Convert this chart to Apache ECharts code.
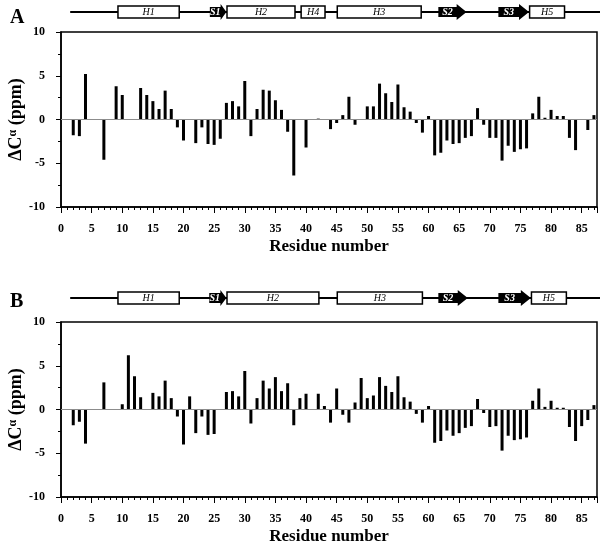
<!DOCTYPE html>
<html>
<head>
<meta charset="utf-8">
<script src="https://cdn.jsdelivr.net/npm/echarts@6/dist/echarts.min.js"></script>
<style>
  html, body { margin: 0; padding: 0; background: #fff; }
  #chart { width: 600px; height: 543px; }
</style>
</head>
<body>
<div id="chart"></div>
<script>
// residue numbers on the x axis
const residues = Array.from({ length: 87 }, (_, i) => i + 1)

// panel A, secondary chemical shift per residue (null = no value)
const shiftA = [
  null, -1.8, -1.9, 5.2, null, null, -4.6, null, 3.8, 2.8,
  null, null, 3.6, 2.8, 2.1, 1.2, 3.3, 1.2, -0.9, -2.4,
  null, -2.7, -0.9, -2.8, -2.9, -2.2, 1.9, 2.1, 1.5, 4.4,
  -1.9, 1.2, 3.4, 3.3, 2.2, 1.1, -1.4, -6.4, null, -3.2,
  null, 0.1, null, -1.1, -0.4, 0.5, 2.6, -0.6, null, 1.5,
  1.5, 4.1, 3.0, 2.0, 4.0, 1.4, 0.9, -0.4, -1.5, 0.4,
  -4.1, -3.8, -2.4, -2.8, -2.7, -2.1, -1.9, 1.3, -0.6, -2.1,
  -2.1, -4.7, -3.0, -3.7, -3.4, -3.3, 0.7, 2.6, 0.2, 1.1,
  0.4, 0.4, -2.1, -3.5, null, -1.2, 0.5
]

// panel B
const shiftB = [
  null, -1.8, -1.4, -3.9, null, null, 3.1, null, null, 0.6,
  6.2, 3.8, 1.4, null, 1.9, 1.5, 3.3, 1.3, -0.8, -4.0,
  1.5, -2.7, -0.8, -2.9, -2.8, null, 2.0, 2.1, 1.5, 4.4,
  -1.6, 1.3, 3.3, 2.4, 3.7, 2.1, 3.0, -1.8, 1.3, 1.8,
  null, 1.8, 0.4, -1.5, 2.4, -0.6, -1.5, 0.8, 3.6, 1.3,
  1.6, 3.7, 2.7, 2.0, 3.8, 1.4, 0.9, -0.5, -1.5, 0.4,
  -3.8, -3.6, -2.4, -3.0, -2.7, -2.1, -1.9, 1.2, -0.4, -2.0,
  -1.9, -4.7, -3.0, -3.5, -3.4, -3.2, 1.0, 2.4, 0.3, 1.0,
  0.2, 0.2, -2.0, -3.6, -1.9, -1.2, 0.5
]

// secondary structure elements (residue ranges)
const ssStartA = [1.5, 9.3, 24.3, 27.1, 39.2, 45.1, 61.6, 71.4, 76.5]
const ssEndA = [88, 19.3, 27.0, 38.2, 43.1, 58.8, 66.2, 76.4, 82.2]
const ssKindA = ['coil', 'helix', 'strand', 'helix', 'helix', 'helix', 'strand', 'strand', 'helix']
const ssLabelA = ['', 'H1', 'S1', 'H2', 'H4', 'H3', 'S2', 'S3', 'H5']

const ssStartB = [1.5, 9.3, 24.2, 27.1, 45.1, 61.6, 71.4, 76.8]
const ssEndB = [88, 19.3, 27.0, 42.1, 59.0, 66.4, 76.7, 82.5]
const ssKindB = ['coil', 'helix', 'strand', 'helix', 'helix', 'strand', 'strand', 'helix']
const ssLabelB = ['', 'H1', 'S1', 'H2', 'H3', 'S2', 'S3', 'H5']

const yTicks = [-10, -5, 0, 5, 10]

const serif = "'Liberation Serif', 'Times New Roman', serif"
const kindCode = { coil: 0, helix: 1, strand: 2 }

const barData = vals => residues.map((r, i) => [r, vals[i]]).filter(d => d[1] !== null)
const ssData = (starts, ends, kinds) => starts.map((s, i) => [s, ends[i], kindCode[kinds[i]]])

function ssRender(labels) {
  return function (params, api) {
    const s = api.coord([api.value(0), 0])
    const e = api.coord([api.value(1), 0])
    const kind = api.value(2)
    const y = s[1]
    const label = labels[params.dataIndex]
    if (kind === 0) {
      return {
        type: 'line',
        shape: { x1: s[0], y1: y, x2: e[0], y2: y },
        style: { stroke: '#000', lineWidth: 2 }
      }
    }
    if (kind === 1) {
      return {
        type: 'group',
        children: [{
          type: 'rect',
          shape: { x: s[0], y: y - 6, width: e[0] - s[0], height: 12 },
          style: { fill: '#fff', stroke: '#000', lineWidth: 1.5 }
        }, {
          type: 'text',
          style: {
            text: label, x: (s[0] + e[0]) / 2, y: y,
            align: 'center', verticalAlign: 'middle',
            font: 'italic 10px ' + serif, fill: '#000'
          }
        }]
      }
    }
    const len = e[0] - s[0]
    const head = Math.min(10, len * 0.35)
    const hx = e[0] - head
    return {
      type: 'group',
      children: [{
        type: 'polygon',
        shape: {
          points: [[s[0], y - 5], [hx, y - 5], [hx, y - 8], [e[0], y], [hx, y + 8], [hx, y + 5], [s[0], y + 5]]
        },
        style: { fill: '#000' }
      }, {
        type: 'text',
        style: {
          text: label, x: (s[0] + hx) / 2, y: y,
          align: 'center', verticalAlign: 'middle',
          font: 'italic bold 10px ' + serif, fill: '#fff'
        }
      }]
    }
  }
}

function minorXAxis(grid) {
  return {
    type: 'value', gridIndex: grid, position: 'bottom',
    min: 0, max: 87.5, interval: 1,
    axisLine: { show: true, onZero: false, lineStyle: { color: '#000', width: 1.5 } },
    axisTick: { show: true, length: 3, lineStyle: { color: '#000', width: 1 } },
    axisLabel: { show: false },
    splitLine: { show: false }
  }
}

function majorXAxis(grid) {
  return {
    type: 'value', gridIndex: grid, position: 'bottom',
    min: 0, max: 87.5, interval: 5,
    name: 'Residue number', nameLocation: 'middle', nameGap: 31, nameMoveOverlap: false,
    nameTextStyle: { fontFamily: serif, fontWeight: 'bold', fontSize: 17, color: '#000' },
    axisLine: { show: false, onZero: false },
    axisTick: { show: true, length: 6, lineStyle: { color: '#000', width: 1 } },
    axisLabel: {
      margin: 16, color: '#000', fontFamily: serif, fontWeight: 'bold', fontSize: 12,
      formatter: v => (v % 5 === 0 ? String(v) : '')
    },
    splitLine: { show: false }
  }
}

function shiftYAxis(grid) {
  return {
    type: 'value', gridIndex: grid,
    min: yTicks[0], max: yTicks[yTicks.length - 1], interval: 5,
    name: 'ΔC{sup|α} (ppm)', nameLocation: 'middle', nameGap: 36, nameMoveOverlap: false,
    nameTextStyle: {
      fontFamily: serif, fontWeight: 'bold', fontSize: 18, color: '#000',
      rich: { sup: { fontFamily: serif, fontWeight: 'bold', fontSize: 12, color: '#000', verticalAlign: 'top' } }
    },
    axisLine: { show: true, onZero: false, lineStyle: { color: '#000', width: 1.5 } },
    axisTick: { show: true, length: 5, lineStyle: { color: '#000' } },
    minorTick: { show: true, splitNumber: 2, length: 3, lineStyle: { color: '#000' } },
    axisLabel: { margin: 16, color: '#000', fontFamily: serif, fontWeight: 'bold', fontSize: 12 },
    splitLine: { show: false }
  }
}

function barSeries(vals, xi, yi) {
  return {
    type: 'bar', xAxisIndex: xi, yAxisIndex: yi,
    data: barData(vals), barWidth: 3,
    itemStyle: { color: '#000' },
    markLine: {
      silent: true, symbol: 'none', label: { show: false },
      lineStyle: { color: '#8c8c8c', width: 1, type: 'solid' },
      data: [{ yAxis: 0 }]
    }
  }
}

const hiddenX = grid => ({ type: 'value', gridIndex: grid, min: 0, max: 87.5, show: false })
const hiddenY = grid => ({ type: 'value', gridIndex: grid, min: -1, max: 1, show: false })

const gridBase = { left: 61, right: 3, outerBoundsMode: 'none', containLabel: false }

const chart = echarts.init(document.getElementById('chart'))
chart.setOption({
  animation: false,
  backgroundColor: '#fff',
  title: [
    { text: 'A', left: 5, top: 3, textStyle: { fontFamily: serif, fontWeight: 'bold', fontSize: 20, color: '#000' } },
    { text: 'B', left: 5, top: 287, textStyle: { fontFamily: serif, fontWeight: 'bold', fontSize: 20, color: '#000' } }
  ],
  grid: [
    Object.assign({}, gridBase, { top: 32, height: 175, show: true, borderColor: '#000', borderWidth: 1.5, backgroundColor: '#fff' }),
    Object.assign({}, gridBase, { top: 322, height: 175, show: true, borderColor: '#000', borderWidth: 1.5, backgroundColor: '#fff' }),
    Object.assign({}, gridBase, { top: 1.5, height: 21 }),
    Object.assign({}, gridBase, { top: 287.5, height: 21 })
  ],
  xAxis: [
    minorXAxis(0), majorXAxis(0),
    minorXAxis(1), majorXAxis(1),
    hiddenX(2), hiddenX(3)
  ],
  yAxis: [shiftYAxis(0), shiftYAxis(1), hiddenY(2), hiddenY(3)],
  series: [
    barSeries(shiftA, 0, 0),
    barSeries(shiftB, 2, 1),
    {
      type: 'custom', xAxisIndex: 4, yAxisIndex: 2, clip: false,
      renderItem: ssRender(ssLabelA),
      data: ssData(ssStartA, ssEndA, ssKindA)
    },
    {
      type: 'custom', xAxisIndex: 5, yAxisIndex: 3, clip: false,
      renderItem: ssRender(ssLabelB),
      data: ssData(ssStartB, ssEndB, ssKindB)
    }
  ]
})
</script>
</body>
</html>
